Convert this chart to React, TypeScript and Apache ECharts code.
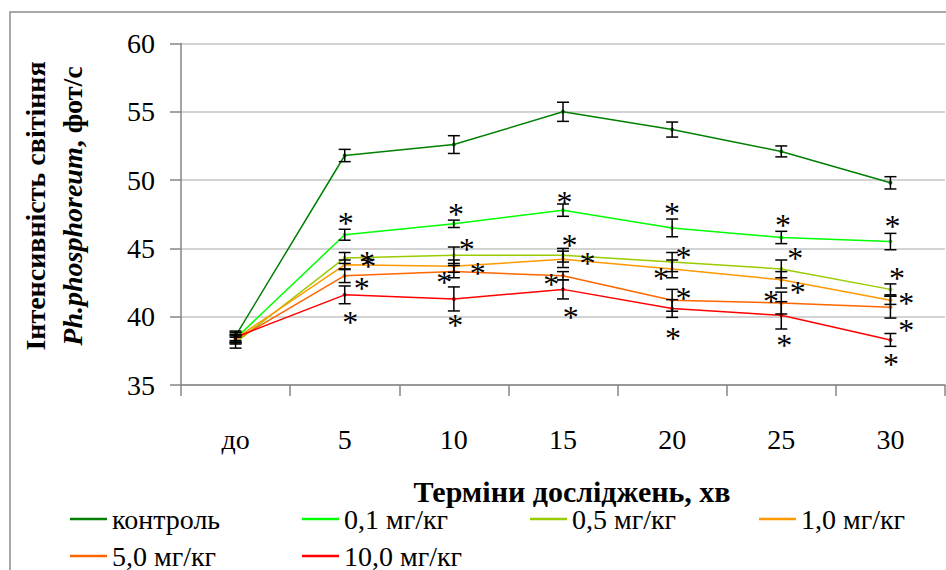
import React, { useEffect, useRef } from "react";
import * as echarts from "echarts";

const categories = ["до", "5", "10", "15", "20", "25", "30"];
const seriesNames = ["контроль", "0,1 мг/кг", "0,5 мг/кг", "1,0 мг/кг", "5,0 мг/кг", "10,0 мг/кг"];
const seriesColors = ["#008000", "#00ff00", "#99cc00", "#ff9900", "#ff6600", "#ff0000"];

const control = [38.6, 51.8, 52.6, 55.0, 53.7, 52.1, 49.8];
const dose01 = [38.4, 46.0, 46.8, 47.8, 46.5, 45.8, 45.5];
const dose05 = [38.1, 44.3, 44.5, 44.5, 44.0, 43.5, 42.0];
const dose10 = [38.4, 43.8, 43.7, 44.2, 43.5, 42.7, 41.2];
const dose50 = [38.3, 43.0, 43.3, 43.0, 41.2, 41.0, 40.7];
const dose100 = [38.5, 41.6, 41.3, 42.0, 40.6, 40.1, 38.3];

const errControl = [0.35, 0.45, 0.65, 0.7, 0.55, 0.4, 0.45];
const err01 = [0.3, 0.4, 0.27, 0.45, 0.65, 0.45, 0.6];
const err05 = [0.4, 0.4, 0.6, 0.5, 0.7, 0.65, 0.4];
const err10 = [0.3, 0.35, 0.45, 0.6, 0.65, 0.6, 0.3];
const err50 = [0.3, 0.5, 0.45, 0.3, 0.8, 0.8, 0.8];
const err100 = [0.35, 0.65, 0.88, 0.7, 0.65, 1.0, 0.47];

// significance marks: [position on the category scale, value]
const asterisks: [number, number][] = [
  [1.01, 47.2], [1.205, 44.35], [1.215, 44.1], [1.157, 42.45], [1.05, 40.0],
  [2.02, 47.86], [2.117, 45.3], [1.911, 42.9], [2.012, 39.8], [2.22, 43.55],
  [3.014, 48.8], [3.06, 45.6], [3.225, 44.3], [2.892, 42.75], [3.072, 40.37],
  [3.998, 48.0], [4.105, 44.76], [3.897, 43.18], [4.105, 41.76], [4.007, 38.78],
  [5.016, 47.08], [5.128, 44.68], [5.15, 42.2], [4.906, 41.5], [5.027, 38.3],
  [6.02, 47.0], [6.06, 43.18], [6.146, 41.35], [6.146, 39.4], [6.005, 36.88],
];

const FONT = "Liberation Serif, Times New Roman, serif";

export default function App() {
  const ref = useRef<HTMLDivElement>(null);
  useEffect(() => {
    document.body.style.margin = "0";
    if (!ref.current) return;
    const chart = echarts.init(ref.current, undefined, { renderer: "svg" });
    const values = [control, dose01, dose05, dose10, dose50, dose100];
    const errs = [errControl, err01, err05, err10, err50, err100];

    const errData: number[][] = [];
    values.forEach((arr, s) => {
      arr.forEach((v, i) => {
        errData.push([i, v - errs[s][i], v + errs[s][i]]);
      });
    });

    const legendLefts = [70, 302, 530, 759, 70, 302];
    const legendTops = [505, 505, 505, 505, 542, 542];

    const option: any = {
      animation: false,
      backgroundColor: "#fff",
      textStyle: { fontFamily: FONT },
      grid: { left: 181, right: 1, top: 43.5, bottom: 185, containLabel: false, outerBoundsMode: "none" },
      legend: seriesNames.map((n, i) => ({
        data: [n],
        left: legendLefts[i],
        top: legendTops[i],
        icon: "rect",
        itemWidth: 37,
        itemHeight: 2.5,
        padding: 0,
        textStyle: { fontFamily: FONT, fontSize: 28, color: "#000" },
      })),
      xAxis: [
        {
          type: "category",
          data: categories,
          boundaryGap: true,
          axisLine: { lineStyle: { color: "#868686", width: 1.5 } },
          axisTick: { show: true, length: 11, inside: false, lineStyle: { color: "#868686", width: 1.5 } },
          axisLabel: { fontFamily: FONT, fontSize: 28, color: "#000", margin: 40 },
          splitLine: { show: false },
        },
        { type: "value", min: -0.5, max: 6.5, show: false },
      ],
      yAxis: {
        type: "value",
        min: 35,
        max: 60,
        interval: 5,
        axisLine: { show: true, onZero: false, lineStyle: { color: "#868686", width: 1.5 } },
        axisTick: { show: true, length: 11, lineStyle: { color: "#868686", width: 1.5 } },
        axisLabel: { fontFamily: FONT, fontSize: 28, color: "#000", margin: 26 },
        splitLine: { show: true, lineStyle: { color: "#c4c4c4", width: 1.5 } },
      },
      graphic: [
        {
          type: "rect",
          shape: { x: 10, y: 12, width: 1000, height: 700 },
          style: { fill: "none", stroke: "#8c8c8c", lineWidth: 1.5 },
          silent: true,
        },
        {
          type: "text",
          x: 54,
          y: 206,
          rotation: Math.PI / 2,
          style: {
            text: "{b|Інтенсивність світіння}\n{i|Ph.phosphoreum}{b|, фот/с}",
            align: "center",
            verticalAlign: "middle",
            rich: {
              b: { fontFamily: FONT, fontSize: 28, fontWeight: "bold", fill: "#000", lineHeight: 37 },
              i: { fontFamily: FONT, fontSize: 28, fontWeight: "bold", fontStyle: "italic", fill: "#000", lineHeight: 37 },
            },
          },
        },
        {
          type: "text",
          x: 572,
          y: 491,
          style: {
            text: "Терміни досліджень, хв",
            fontFamily: FONT,
            fontSize: 30,
            fontWeight: "bold",
            fill: "#000",
            align: "center",
            verticalAlign: "middle",
          },
        },
      ],
      series: [
        ...values.map((arr, s) => ({
          type: "line",
          name: seriesNames[s],
          data: arr,
          color: seriesColors[s],
          symbol: "circle",
          symbolSize: 4,
          lineStyle: { width: 1.5, color: seriesColors[s] },
          itemStyle: { color: seriesColors[s] },
          z: 3,
        })),
        {
          type: "custom",
          name: "errors",
          data: errData,
          encode: { x: 0, y: [1, 2] },
          z: 5,
          renderItem: (params: any, api: any) => {
            const lo = api.coord([api.value(0), api.value(1)]);
            const hi = api.coord([api.value(0), api.value(2)]);
            const w = 6;
            const st = { stroke: "#000", lineWidth: 1.5 };
            return {
              type: "group",
              children: [
                { type: "line", shape: { x1: lo[0], y1: lo[1], x2: hi[0], y2: hi[1] }, style: st },
                { type: "line", shape: { x1: lo[0] - w, y1: lo[1], x2: lo[0] + w, y2: lo[1] }, style: st },
                { type: "line", shape: { x1: hi[0] - w, y1: hi[1], x2: hi[0] + w, y2: hi[1] }, style: st },
              ],
            };
          },
        },
        {
          type: "custom",
          name: "asterisks",
          xAxisIndex: 1,
          data: asterisks,
          z: 6,
          renderItem: (params: any, api: any) => {
            const p = api.coord([api.value(0), api.value(1)]);
            const fs = 32;
            return {
              type: "text",
              x: p[0],
              y: p[1] + 0.16 * fs,
              style: {
                text: "*",
                fontFamily: FONT,
                fontSize: fs,
                fill: "#000",
                align: "center",
                verticalAlign: "middle",
              },
            };
          },
        },
      ],
    };
    chart.setOption(option);
    return () => chart.dispose();
  }, []);
  return <div ref={ref} style={{ width: 946, height: 570 }} />;
}
